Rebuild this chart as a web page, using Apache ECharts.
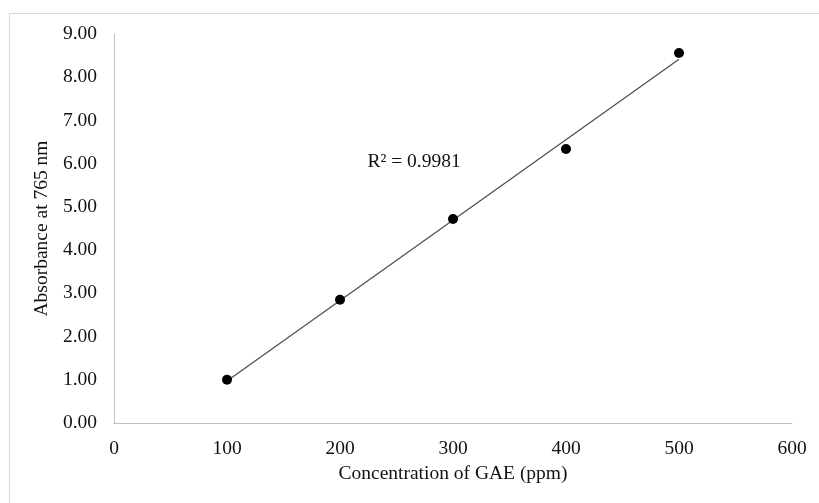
<!DOCTYPE html>
<html>
<head>
<meta charset="utf-8">
<script src="https://cdn.jsdelivr.net/npm/echarts@6/dist/echarts.min.js"></script>
<style>
html,body{margin:0;padding:0;background:#fff;}
#chart{width:819px;height:503px;}
</style>
</head>
<body>
<div id="chart"></div>
<script>
// Data
const concentrations = [100, 200, 300, 400, 500];
const absorbances = [1.00, 2.85, 4.72, 6.34, 8.56];
const xTicks = [0, 100, 200, 300, 400, 500, 600];
const yTicks = [0, 1, 2, 3, 4, 5, 6, 7, 8, 9];
const r2Text = 'R\u00b2 = 0.9981';
const r2Pos = [265.5, 6.05];

// Least-squares trendline from the data
const n = concentrations.length;
const mx = concentrations.reduce((a, b) => a + b, 0) / n;
const my = absorbances.reduce((a, b) => a + b, 0) / n;
let sxy = 0, sxx = 0;
for (let i = 0; i < n; i++) {
  sxy += (concentrations[i] - mx) * (absorbances[i] - my);
  sxx += (concentrations[i] - mx) ** 2;
}
const slope = sxy / sxx;
const intercept = my - slope * mx;
const xMinData = Math.min(...concentrations), xMaxData = Math.max(...concentrations);
const trend = [[xMinData, intercept + slope * xMinData], [xMaxData, intercept + slope * xMaxData]];

const FONT = '"Liberation Serif", "Times New Roman", serif';
const TXT = '#111';

const chart = echarts.init(document.getElementById('chart'), null, {renderer: 'canvas'});
chart.setOption({
  backgroundColor: '#fff',
  animation: false,
  graphic: [{
    type: 'rect',
    shape: {x: 9.5, y: 13.5, width: 900, height: 600},
    style: {fill: 'none', stroke: '#d9d9d9', lineWidth: 1},
    silent: true, z: -1
  }],
  grid: {left: 114, right: 27, top: 34, bottom: 80, containLabel: false},
  xAxis: {
    type: 'value',
    min: xTicks[0], max: xTicks[xTicks.length - 1], interval: 100,
    name: 'Concentration of GAE (ppm)',
    nameLocation: 'middle', nameGap: 38,
    nameTextStyle: {fontFamily: FONT, fontSize: 19.5, color: TXT},
    axisLine: {show: true, lineStyle: {color: '#bfbfbf', width: 1}},
    axisTick: {show: false},
    splitLine: {show: false},
    axisLabel: {fontFamily: FONT, fontSize: 19.5, color: TXT, margin: 16}
  },
  yAxis: {
    type: 'value',
    min: yTicks[0], max: yTicks[yTicks.length - 1], interval: 1,
    name: 'Absorbance at 765 nm',
    nameLocation: 'middle', nameGap: 51, nameRotate: 90,
    nameTextStyle: {fontFamily: FONT, fontSize: 19.5, color: TXT},
    axisLine: {show: true, lineStyle: {color: '#bfbfbf', width: 1}},
    axisTick: {show: false},
    splitLine: {show: false},
    axisLabel: {fontFamily: FONT, fontSize: 19.5, color: TXT, margin: 17,
      formatter: v => v.toFixed(2)}
  },
  series: [
    {
      type: 'line',
      data: trend,
      showSymbol: false,
      symbol: 'none',
      lineStyle: {color: '#505050', width: 1.3},
      z: 2,
      markPoint: {
        symbol: 'circle', symbolSize: 0,
        data: [{coord: r2Pos, value: r2Text}],
        label: {show: true, position: 'inside', formatter: r2Text,
          fontFamily: FONT, fontSize: 19.5, color: TXT}
      }
    },
    {
      type: 'scatter',
      data: concentrations.map((x, i) => [x, absorbances[i]]),
      symbol: 'circle', symbolSize: 10,
      itemStyle: {color: '#000', opacity: 1},
      z: 3
    }
  ]
});
</script>
</body>
</html>
